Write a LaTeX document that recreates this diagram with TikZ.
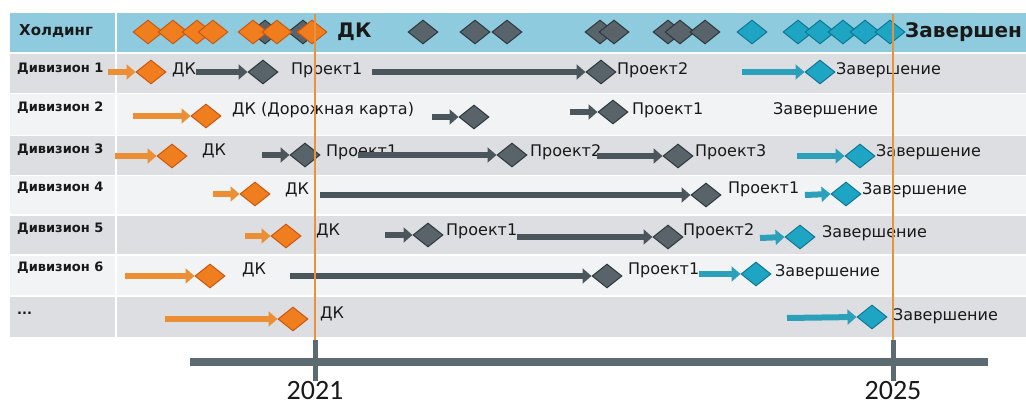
\documentclass[tikz,border=0pt]{standalone}
\usepackage{fontspec}
\setmainfont{DejaVu Sans}
\newfontfamily\yearfont{Carlito}
\usetikzlibrary{shapes.geometric,arrows.meta}
\definecolor{hdrblue}{RGB}{143,203,222}
\definecolor{rowgray}{RGB}{221,222,225}
\definecolor{rowlight}{RGB}{242,243,245}
\definecolor{ofill}{RGB}{240,125,30}
\definecolor{odark}{RGB}{200,88,15}
\definecolor{gfill}{RGB}{88,100,106}
\definecolor{gdark}{RGB}{45,55,60}
\definecolor{tfill}{RGB}{30,165,196}
\definecolor{tdark}{RGB}{15,118,145}
\definecolor{oarrc}{RGB}{236,142,52}
\definecolor{garrc}{RGB}{75,86,92}
\definecolor{tarrc}{RGB}{42,160,186}
\definecolor{vline}{RGB}{232,146,62}
\definecolor{tlcol}{RGB}{92,106,114}
\definecolor{txt}{RGB}{25,25,25}
\begin{document}
\begin{tikzpicture}[x=1pt,y=-1pt,
  dia/.style={diamond, inner sep=0pt, minimum width=30pt, minimum height=24pt, line width=1pt},
  odia/.style={dia, fill=ofill, draw=odark},
  gdia/.style={dia, fill=gfill, draw=gdark},
  tdia/.style={dia, fill=tfill, draw=tdark},
  arr/.style={line width=6pt, -{Triangle[width=15pt,length=9pt]}},
  oarr/.style={arr, draw=oarrc},
  garr/.style={arr, draw=garrc},
  tarr/.style={arr, draw=tarrc},
  tl/.style={anchor=west, inner sep=0pt, text=txt, font=\fontsize{16}{18}\selectfont},
  rl/.style={anchor=west, inner sep=0pt, text=txt, font=\bfseries\fontsize{13}{15}\selectfont},
  hl/.style={anchor=west, inner sep=0pt, text=txt, font=\bfseries\fontsize{20}{22}\selectfont},
  yr/.style={inner sep=0pt, text=txt, font=\yearfont\fontsize{28}{30}\selectfont}]
\useasboundingbox (0,0) rectangle (1026,409);
\fill[white] (0,0) rectangle (1026,409);
% bands
\fill[hdrblue] (10,13) rectangle (1026,52);
\fill[rowgray] (10,54) rectangle (1026,93);
\fill[rowlight] (10,94.5) rectangle (1026,135);
\fill[rowgray] (10,136.5) rectangle (1026,175);
\fill[rowlight] (10,176.5) rectangle (1026,214);
\fill[rowgray] (10,215.5) rectangle (1026,254);
\fill[rowlight] (10,255.5) rectangle (1026,295);
\fill[rowgray] (10,296.5) rectangle (1026,337);
\draw[white, line width=2pt] (116,13) -- (116,337);
% labels
\node[anchor=west, inner sep=0pt, text=txt, font=\bfseries\fontsize{15}{17}\selectfont] (hold) at (19,31) {Холдинг};
\node[rl] (l1) at (17,69) {Дивизион 1};
\node[rl] (l2) at (17,108) {Дивизион 2};
\node[rl] (l3) at (17,150) {Дивизион 3};
\node[rl] (l4) at (17,188) {Дивизион 4};
\node[rl] (l5) at (17,229) {Дивизион 5};
\node[rl] (l6) at (17,268) {Дивизион 6};
\node[rl] (l7) at (17,313) {...};
% header diamonds
\node[gdia] (hg0) at (265,32) {};
\node[gdia] (hg00) at (303,32) {};
\node[odia] (ho1) at (148,32) {};
\node[odia] (ho2) at (173,32) {};
\node[odia] (ho3) at (197,32) {};
\node[odia] (ho4) at (213,32) {};
\node[odia] (ho5) at (253,32) {};
\node[odia] (ho6) at (277,32) {};
\node[odia] (ho7) at (312,32) {};
\node[hl] (hdk) at (337,32) {ДК};
\node[gdia] (hg1) at (423,32) {};
\node[gdia] (hg2) at (475,32) {};
\node[gdia] (hg3) at (507,32) {};
\node[gdia] (hg4) at (600,32) {};
\node[gdia] (hg5) at (614,32) {};
\node[gdia] (hg6) at (668,32) {};
\node[gdia] (hg7) at (680,32) {};
\node[gdia] (hg8) at (705,32) {};
\node[tdia] (ht1) at (752,32) {};
\node[tdia] (ht2) at (798,32) {};
\node[tdia] (ht3) at (820,32) {};
\node[tdia] (ht4) at (843,32) {};
\node[tdia] (ht5) at (865,32) {};
\node[tdia] (ht6) at (890,32) {};
\node[hl] (hend) at (905,32) {Завершен};
% row 1
\coordinate (s11) at (108,72);
\node[odia] (d11) at (151,72) {};
\draw[oarr] (s11) -- (d11.west);
\node[tl] (t11) at (172,70) {ДК};
\node[gdia] (d12) at (263,72) {};
\draw[garr] (t11.east |- d12.west) -- (d12.west);
\node[tl] (t12) at (291,70) {Проект1};
\coordinate (s13) at (372,72);
\node[gdia] (d13) at (601,72) {};
\draw[garr] (s13) -- (d13.west);
\node[tl] (t13) at (617,70) {Проект2};
\coordinate (s14) at (742,72);
\node[tdia] (d14) at (820,72) {};
\draw[tarr] (s14) -- (d14.west);
\node[tl] (t14) at (836,70) {Завершение};
% row 2
\coordinate (s21) at (133,116);
\node[odia] (d21) at (206,116) {};
\draw[oarr] (s21) -- (d21.west);
\node[tl] (t21) at (232,110) {ДК (Дорожная карта)};
\coordinate (s22) at (432,117);
\node[gdia] (d22) at (474,117) {};
\draw[garr] (s22) -- (d22.west);
\coordinate (s23) at (570,112);
\node[gdia] (d23) at (613,112) {};
\draw[garr] (s23) -- (d23.west);
\node[tl] (t22) at (632,110) {Проект1};
\node[tl] (t23) at (773,110) {Завершение};
% row 3
\coordinate (s31) at (115,156);
\node[odia] (d31) at (172,156) {};
\draw[oarr] (s31) -- (d31.west);
\node[tl] (t31) at (202,151) {ДК};
\coordinate (s32) at (262,155);
\node[gdia] (d32) at (305,155) {};
\draw[garr] (s32) -- (d32.west);
\node[tl] (t32) at (326,152) {Проект1};
\coordinate (s33) at (358,155);
\node[gdia] (d33) at (512,155) {};
\draw[garr] (s33) -- (d33.west);
\node[tl] (t33) at (530,152) {Проект2};
\coordinate (s34) at (597,156);
\node[gdia] (d34) at (678,156) {};
\draw[garr] (s34) -- (d34.west);
\node[tl] (t34) at (695,152) {Проект3};
\coordinate (s35) at (797,156);
\node[tdia] (d35) at (860,156) {};
\draw[tarr] (s35) -- (d35.west);
\node[tl] (t35) at (876,152) {Завершение};
% row 4
\coordinate (s41) at (213,194);
\node[odia] (d41) at (255,194) {};
\draw[oarr] (s41) -- (d41.west);
\node[tl] (t41) at (285,190) {ДК};
\coordinate (s42) at (320,195);
\node[gdia] (d42) at (706,195) {};
\draw[garr] (s42) -- (d42.west);
\node[tl] (t42) at (728,189) {Проект1};
\coordinate (s43) at (805,195);
\node[tdia] (d43) at (846,194) {};
\draw[tarr] (s43) -- (d43.west);
\node[tl] (t43) at (862,190) {Завершение};
% row 5
\coordinate (s51) at (245,236);
\node[odia] (d51) at (286,236) {};
\draw[oarr] (s51) -- (d51.west);
\node[tl] (t51) at (316,231) {ДК};
\coordinate (s52) at (385,235);
\node[gdia] (d52) at (428,235) {};
\draw[garr] (s52) -- (d52.west);
\node[tl] (t52) at (446,231) {Проект1};
\node[gdia] (d53) at (668,237) {};
\draw[garr] (t52.east |- d53.west) -- (d53.west);
\node[tl] (t53) at (683,231) {Проект2};
\coordinate (s54) at (760,238);
\node[tdia] (d54) at (800,237) {};
\draw[tarr] (s54) -- (d54.west);
\node[tl] (t54) at (822,233) {Завершение};
% row 6
\coordinate (s61) at (125,276);
\node[odia] (d61) at (210,276) {};
\draw[oarr] (s61) -- (d61.west);
\node[tl] (t61) at (242,270) {ДК};
\coordinate (s62) at (290,276);
\node[gdia] (d62) at (607,276) {};
\draw[garr] (s62) -- (d62.west);
\node[tl] (t62) at (628,270) {Проект1};
\node[tdia] (d63) at (756,274) {};
\draw[tarr] (t62.east |- d63.west) -- (d63.west);
\node[tl] (t63) at (775,272) {Завершение};
% row 7
\coordinate (s71) at (165,319);
\node[odia] (d71) at (293,319) {};
\draw[oarr] (s71) -- (d71.west);
\node[tl] (t71) at (320,314) {ДК};
\coordinate (s72) at (787,318);
\node[tdia] (d72) at (872,317) {};
\draw[tarr] (s72) -- (d72.west);
\node[tl] (t72) at (893,316) {Завершение};
% timeline
\coordinate (tla) at (190,362);
\coordinate (tlb) at (988,362);
\draw[tlcol, line width=8pt] (tla) -- (tlb);
\coordinate (k1t) at (315,340);
\coordinate (k1b) at (315,381);
\coordinate (k2t) at (893,340);
\coordinate (k2b) at (893,381);
\draw[tlcol, line width=5pt] (k1t) -- (k1b);
\draw[tlcol, line width=5pt] (k2t) -- (k2b);
\draw[vline, line width=1.5pt] (315,14) -- (k1t);
\draw[vline, line width=1.5pt] (893,14) -- (k2t);
\node[yr] (y1) at (315,391) {2021};
\node[yr] (y2) at (893,391) {2025};
\end{tikzpicture}
\end{document}
